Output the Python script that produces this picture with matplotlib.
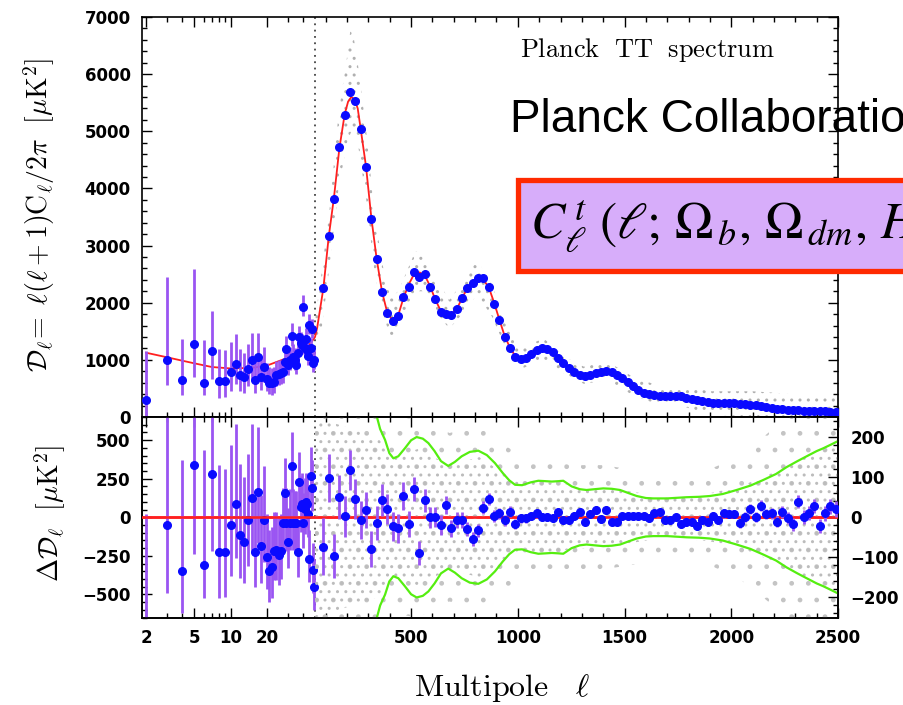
import numpy as np
import matplotlib.pyplot as plt
from matplotlib.patches import Rectangle

plt.rcParams['mathtext.fontset'] = 'cm'
plt.rcParams['font.family'] = ['DejaVu Sans']
plt.rcParams['hatch.linewidth'] = 1.0

# ---- theory curve (best fit) ----
th_l = [2, 3, 4, 5, 7, 10, 15, 20, 26, 30, 36, 40, 46, 50, 60, 73, 89, 114, 139, 164,
        189, 205, 220, 235, 250, 264, 289, 314, 339, 364, 389, 414, 439, 464, 489, 514, 540, 564, 589, 614,
        639, 664, 689, 714, 739, 764, 789, 814, 839, 864, 889, 914, 939, 964, 989, 1018, 1045, 1072, 1100, 1127,
        1150, 1174, 1200, 1229, 1260, 1290, 1310, 1335, 1361, 1390, 1416, 1445, 1478, 1510, 1541, 1575, 1604, 1650, 1698, 1740,
        1760, 1790, 1822, 1870, 1916, 1960, 2010, 2060, 2103, 2150, 2197, 2240, 2290, 2340, 2384, 2440, 2500]
th_D = [1125, 1044, 985, 940, 875, 850, 860, 900, 990, 1040, 1115, 1180, 1290, 1400, 1560, 1870, 2250, 3150, 3850, 4700,
        5300, 5520, 5600, 5560, 5400, 5040, 4380, 3480, 2760, 2190, 1820, 1690, 1770, 2080, 2320, 2500, 2530, 2480, 2290, 2050,
        1860, 1790, 1800, 1890, 2080, 2260, 2380, 2430, 2400, 2270, 2000, 1700, 1410, 1210, 1060, 1010, 1050, 1125, 1190, 1200,
        1160, 1100, 1000, 890, 800, 740, 718, 735, 765, 795, 805, 770, 705, 620, 530, 450, 400, 375, 368, 370,
        368, 340, 310, 275, 250, 245, 240, 225, 210, 180, 152, 135, 122, 112, 105, 98, 92]

# ---- low-l unbinned points (l = 2..49) ----
lo_l = np.arange(2, 50)
lo_D = [297, 997, 647, 1277, 589, 1161, 636, 636, 793, 927,
        735, 694, 840, 997, 647, 1044, 706, 881, 659, 600,
        589, 618, 735, 752, 764, 782, 968, 1184, 910, 1000,
        1417, 1056, 1000, 910, 1114, 1394, 1289, 1260, 1931, 1202,
        1359, 1172, 1068, 1610, 1200, 1534, 939, 997]
lo_err_lo = [297, 440, 270, 580, 210, 500, 300, 290, 330, 350,
             280, 270, 300, 340, 230, 330, 240, 270, 210, 200,
             200, 190, 190, 190, 180, 180, 180, 180, 170, 170,
             170, 170, 170, 160, 160, 160, 160, 160, 160, 160,
             150, 150, 150, 150, 150, 150, 150, 150]
lo_err_hi = [850, 1450, 720, 1320, 750, 700, 560, 540, 520, 520,
             460, 420, 430, 480, 350, 420, 330, 350, 280, 270,
             260, 250, 250, 240, 240, 230, 230, 230, 220, 220,
             220, 220, 210, 210, 210, 200, 200, 200, 200, 200,
             190, 190, 190, 190, 190, 180, 180, 180]
lo_res = [-830, -50, -350, 341, -311, 283, -224, -224, -50, 85,
          -115, -159, -18, 124, -224, 163, -187, -18, -257, -350,
          -322, -218, -214, -246, -218, -40, 157, -40, -159, -40,
          335, -40, -40, -40, -227, 226, 65, 85, -40, 54,
          98, 85, 20, -270, 265, 189, -344, -453]

# ---- high-l binned points ----
hi_l = np.arange(89, 2490, 25)
hi_D = [2252, 3168, 3810, 4730, 5285, 5682, 5530, 5040, 4380, 3465,
        2760, 2193, 1826, 1680, 1773, 2095, 2280, 2543, 2455, 2497,
        2270, 2060, 1843, 1803, 1785, 1885, 2077, 2252, 2340, 2427,
        2427, 2280, 1978, 1698, 1405, 1213, 1045,
        1010, 1040, 1110, 1170, 1200, 1190, 1130, 1040, 940, 860,
        790, 735, 715, 735, 770, 795, 805, 785, 735, 680,
        610, 535, 475, 425, 395, 380, 370, 365, 368, 370,
        365, 340, 318, 295, 278, 262, 250, 246, 243, 240,
        238, 232, 224, 215, 202, 186, 170, 156, 145, 135,
        128, 122, 117, 112, 108, 105, 101, 98, 95, 93]
hi_res = [-73, 97, -96, 50, 2, 117, 46, -7, 18, -80,
          -15, 42, 21, -22, -28, 53, -17, 71, -90, 42,
          0, 0, -19, 31, -28, -7, -7, -29, -54, -32,
          24, 45, 2, 10, -8, 14, -17, -3, -3, 3,
          10, 0, 0, -3, 12, -8, -7,
          3, 14, -11, 8, 18, -5, 18, -11, -11, 2,
          3, 2, 2, 3, -3, 10, 12, -8, -8, 0,
          -18, -13, -11, -21, -8, -11, 2, -7, 10, 8,
          8, -15, 0, 21, 0, 29, 8, 10, -11, 12,
          -3, -18, 39, 0, 10, 28, -22, 10, 27, 20]
hi_err = [70, 60, 55, 55, 50, 50, 50, 48, 45, 45,
          42, 40, 38, 36, 35, 34, 32, 30, 30, 28,
          26, 25, 24, 22, 21, 20, 19, 18, 17, 16,
          16, 15, 15, 14, 13, 13, 12, 12, 11, 11,
          11, 10, 10, 10, 10, 10, 10,
          9, 9, 9, 9, 9, 9, 9, 9, 9, 9,
          9, 9, 9, 9, 9, 9, 9, 9, 9, 9,
          10, 10, 10, 10, 10, 10, 10, 11, 11, 11,
          11, 12, 12, 12, 13, 13, 13, 14, 14, 15,
          15, 16, 16, 17, 17, 18, 18, 19, 19, 20]

# ---- unbinned scatter envelope (grey cloud) ----
cl_l = [50, 80, 120, 160, 200, 220, 250, 290, 330, 370, 410, 440, 520, 560, 620, 680, 740, 810,
        880, 950, 1020, 1120, 1220, 1310, 1420, 1540, 1650, 1760, 1900, 2100, 2300, 2500]
cl_lo = [1200, 1500, 2700, 4000, 4800, 5000, 4800, 3800, 2500, 1800, 1300, 1500, 2200, 2200, 1800, 1550, 1800, 2150,
         1750, 1150, 850, 1000, 750, 580, 650, 380, 220, 200, 50, 0, -50, -100]
cl_hi = [1700, 2500, 3700, 5300, 6300, 6900, 6200, 5000, 3500, 2600, 2100, 2200, 2900, 2850, 2400, 2050, 2350, 2750,
         2300, 1600, 1200, 1380, 1050, 880, 970, 700, 560, 550, 450, 450, 400, 350]
res_cl_l = [50, 340, 420, 530, 680, 820, 990, 1100, 1250, 1400, 1640, 1800, 1900, 2030, 2150, 2260, 2350, 2500]
res_cl = [250, 250, 240, 250, 210, 230, 160, 150, 130, 130, 110, 110, 120, 150, 200, 250, 250, 250]
res_core = [250, 200, 150, 170, 130, 150, 90, 90, 80, 75, 55, 55, 60, 75, 100, 130, 150, 180]

# ---- green envelope in residual panel ----
gr_l = [320, 339, 355, 378, 398, 417, 440, 471, 500, 526, 555, 581, 610, 640, 674, 705, 737, 775, 815, 855,
        893, 930, 960, 987, 1020, 1060, 1096, 1130, 1159, 1190, 1213, 1252, 1290, 1322, 1360, 1400, 1440, 1479,
        1520, 1557, 1600, 1635, 1700, 1791, 1850, 1900, 1960, 2025, 2090, 2150, 2210, 2259, 2310, 2353, 2400,
        2431, 2470, 2500]
gr_v = [300, 252, 220, 193, 160, 147, 152, 172, 192, 200, 196, 185, 165, 140, 128, 138, 152, 163, 166, 155,
        135, 110, 92, 81, 80, 87, 91, 90, 89, 90, 91, 77, 70, 68, 70, 72, 71, 68,
        60, 53, 48, 47, 47, 50, 51, 53, 58, 68, 79, 93, 108, 125, 140, 152, 165,
        172, 182, 190]

# hybrid axis: log for l<50, linear above
K = 566.3


def fwd(x):
    x = np.asarray(x, dtype=float)
    lg = 50 - np.log10(50 / np.clip(x, 1e-6, None)) * K
    return np.where(x < 50, lg, x)


def inv(y):
    y = np.asarray(y, dtype=float)
    return np.where(y < 50, 50 * 10 ** ((np.minimum(y, 50) - 50) / K), y)


blue = '#0a0aff'
purple = '#9a55f2'
red = '#ff2020'
green = '#55ee10'
grey = '#b0b0b0'

fig = plt.figure(figsize=(9.04, 7.05), dpi=100)
ax1 = fig.add_axes([0.1567, 0.4085, 0.7703, 0.5674])
ax2 = fig.add_axes([0.1567, 0.1241, 0.7703, 0.2844])

for ax in (ax1, ax2):
    ax.set_xscale('function', functions=(fwd, inv))
    ax.set_xlim(1.84, 2500)
    ax.axvline(50, color='#444444', ls=(0, (1, 2.5)), lw=1.3, zorder=1)

# top panel
ax1.fill_between(cl_l, cl_lo, cl_hi, facecolor='none', edgecolor=grey, hatch='..', linewidth=0, zorder=1)
ax1.plot(th_l, th_D, color=red, lw=1.3, zorder=3)
ax1.errorbar(lo_l, lo_D, yerr=[lo_err_lo, lo_err_hi], fmt='o', color=blue, ecolor=purple,
             elinewidth=2, ms=5.5, capsize=0, zorder=4)
ax1.errorbar(hi_l, hi_D, yerr=hi_err, fmt='o', color=blue, ecolor=purple,
             elinewidth=2, ms=5.5, capsize=0, zorder=4)
ax1.set_ylim(0, 7000)
ax1.set_yticks(np.arange(0, 7001, 1000))
ax1.set_yticks(np.arange(0, 7001, 200), minor=True)
ax1.text(0.727, 0.917, r'$\mathrm{Planck\ \ TT\ \ spectrum}$', transform=ax1.transAxes,
         ha='center', va='center', fontsize=19)

# bottom panel
ax2.errorbar(lo_l, lo_res, yerr=[lo_err_lo, lo_err_hi], fmt='o', color=blue, ecolor=purple,
             elinewidth=2, ms=5.5, capsize=0, zorder=4)
ax2.axhline(0, color=red, lw=1.8, zorder=3)
ax2.set_ylim(-650, 650)
ax2.set_yticks([-500, -250, 0, 250, 500])
ax2.set_yticks(np.arange(-650, 651, 50), minor=True)

ax2r = ax2.twinx()
ax2r.fill_between(res_cl_l, np.negative(res_cl), res_cl, facecolor='none', edgecolor='#c4c4c4',
                  hatch='.', linewidth=0, zorder=1)
ax2r.fill_between(res_cl_l, np.negative(res_core), res_core, facecolor='none', edgecolor='#bcbcbc',
                  hatch='..', linewidth=0, zorder=1)
ax2r.plot(gr_l, gr_v, color=green, lw=1.6, zorder=2)
ax2r.plot(gr_l, np.negative(gr_v), color=green, lw=1.6, zorder=2)
ax2r.axhline(0, color=red, lw=1.8, zorder=3)
ax2r.errorbar(hi_l, hi_res, yerr=hi_err, fmt='o', color=blue, ecolor=purple,
              elinewidth=2, ms=5.5, capsize=0, zorder=4)
ax2r.set_ylim(-250, 250)
ax2r.set_yticks([-200, -100, 0, 100, 200])
ax2r.set_yticks(np.arange(-240, 241, 20), minor=True)
ax2r.set_xlim(1.84, 2500)

xt = [2, 5, 10, 20, 500, 1000, 1500, 2000, 2500]
xm = [3, 4, 6, 7, 8, 9, 30, 40] + [v for v in range(100, 2500, 100) if v % 500 != 0]
for ax in (ax1, ax2):
    ax.set_xticks(xt)
    ax.set_xticks(xm, minor=True)
ax2.set_xticklabels([str(v) for v in xt])

ax1.tick_params(which='both', direction='in', top=True, right=True, labelbottom=False, width=1)
ax2.tick_params(which='both', direction='in', top=True, right=False, width=1)
ax2r.tick_params(which='both', direction='in', right=True, width=1)
for ax in (ax1, ax2, ax2r):
    ax.tick_params(which='major', length=7, labelsize=12, pad=8)
    ax.tick_params(which='minor', length=3.5)
    for s in ax.spines.values():
        s.set_linewidth(1.2)
    for lbl in ax.get_xticklabels() + ax.get_yticklabels():
        lbl.set_fontweight('bold')
ax2r.tick_params(which='major', pad=9)

fig.text(0.043, 0.695, r'$\mathcal{D}_{\ell}\!=\ \ell(\ell+1)\mathrm{C}_{\ell}/2\pi\ \ [\mu\mathrm{K}^2]$',
         rotation=90, ha='center', va='center', fontsize=20)
fig.text(0.056, 0.271, r'$\Delta\mathcal{D}_{\ell}\ \ [\mu\mathrm{K}^2]$',
         rotation=90, ha='center', va='center', fontsize=20)
fig.text(0.556, 0.024, r'$\mathrm{Multipole}\ \ \ \ell$', ha='center', va='center', fontsize=23)

# overlay annotations (run off the right edge, as in the source slide)
fig.text(510 / 904, 1 - 120 / 705, 'Planck Collaboration', fontsize=33,
         family=['Liberation Sans'], ha='left', va='center', color='black', zorder=10)
fig.patches.append(Rectangle((518 / 904, 1 - 271 / 705), 0.6, 91 / 705, transform=fig.transFigure,
                             facecolor='#d7adfa', edgecolor='#ff2a00', linewidth=3.8, zorder=9))
fig.text(530 / 904, 1 - 226 / 705,
         r'$C_\ell^{\,t}\,\,(\ell;\,\Omega_{\,b},\,\Omega_{\,dm},\,H$', fontsize=37,
         math_fontfamily='stix', ha='left', va='center', color='black', zorder=11)

fig.savefig('out.png', dpi=100)
